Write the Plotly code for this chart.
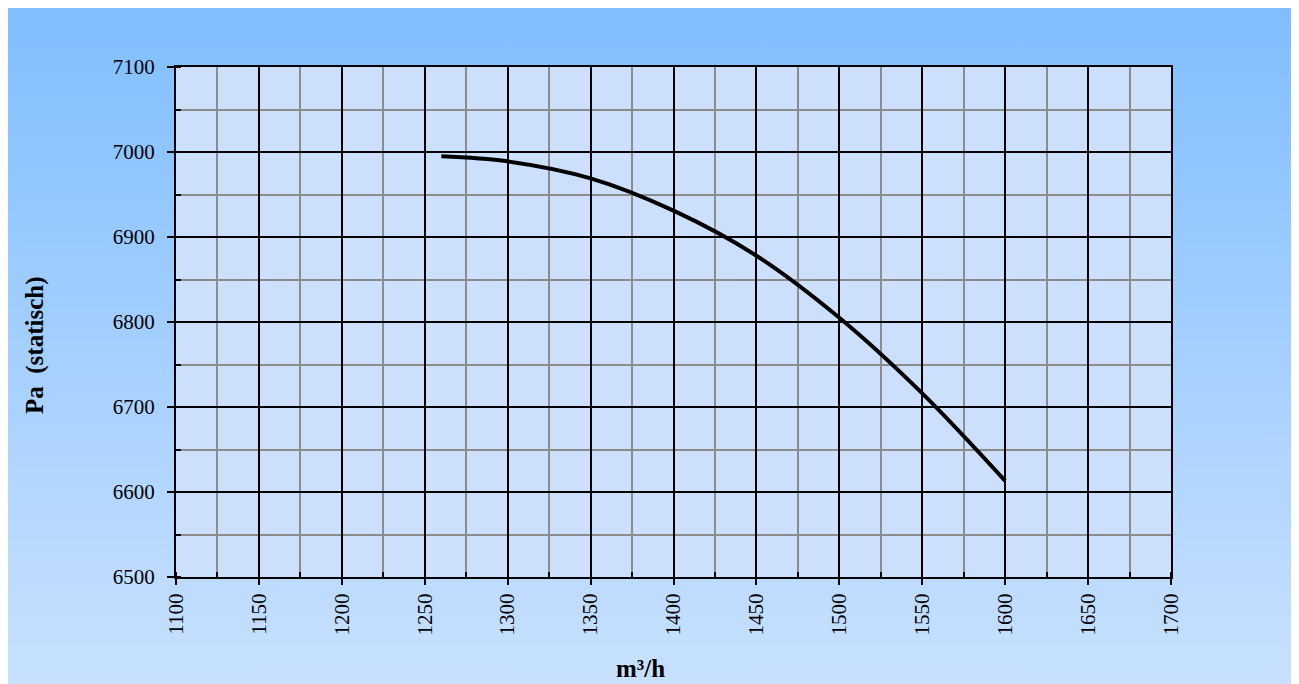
import base64
import plotly.graph_objects as go

# Data
flow = [1260, 1300, 1350, 1400, 1450, 1500, 1550, 1600]          # m³/h
pressure = [6995, 6989, 6969, 6931, 6878, 6805, 6716, 6613]      # Pa (statisch)

x_range = [1100, 1700]
y_range = [6500, 7100]
x_title = "m³/h"
y_title = "Pa\u00a0 (statisch)"

W, H = 1310, 684
# plot area pixel bounds in figure coordinates (page body margin is 8px)
L, R, T, B = 168, 1163, 59, 569
pw, ph = R - L, B - T

def px_x(p):
    return (p - L) / pw

def px_y(p):
    return (B - p) / ph

svg = (
    '<svg xmlns="http://www.w3.org/2000/svg" width="100" height="100" preserveAspectRatio="none">'
    '<defs><linearGradient id="g" x1="0" y1="0" x2="0" y2="1">'
    '<stop offset="0" stop-color="#80BEFF"/><stop offset="1" stop-color="#C9E1FF"/>'
    '</linearGradient></defs><rect width="100" height="100" fill="url(#g)"/></svg>'
)
svg_uri = "data:image/svg+xml;base64," + base64.b64encode(svg.encode()).decode()

font = "Liberation Serif, Times New Roman, serif"

fig = go.Figure()
fig.add_trace(go.Scatter(
    x=flow, y=pressure, mode="lines",
    line=dict(color="black", width=4, shape="spline", smoothing=1.0),
    showlegend=False, hoverinfo="x+y",
))

fig.update_layout(
    width=W, height=H,
    margin=dict(l=L, r=W - R, t=T, b=H - B, autoexpand=False),
    paper_bgcolor="#A6D0FF",
    plot_bgcolor="#CCDFFC",
    font=dict(family=font, size=21, color="black"),
    images=[dict(
        source=svg_uri, xref="paper", yref="paper",
        x=px_x(0), y=px_y(0), sizex=W / pw, sizey=H / ph,
        xanchor="left", yanchor="top", sizing="stretch", layer="below",
    )],
    shapes=[
        dict(type="rect", xref="paper", yref="paper", x0=0, x1=1, y0=0, y1=1,
             fillcolor="#CCDFFC", line=dict(width=0), layer="below"),
    ],
    annotations=[
        dict(text="<b>" + x_title + "</b>", xref="paper", yref="paper",
             x=px_x(632), y=px_y(660), showarrow=False, font=dict(size=25),
             xanchor="center", yanchor="middle"),
        dict(text="<b>" + y_title + "</b>", xref="paper", yref="paper",
             x=px_x(27), y=px_y(338), showarrow=False, font=dict(size=25),
             textangle=-90, xanchor="center", yanchor="middle"),
    ],
)

fig.update_xaxes(
    range=x_range, dtick=50, tick0=1100, tickangle=-90,
    showgrid=True, gridcolor="black", gridwidth=1.5,
    showline=True, linecolor="black", linewidth=2, mirror=True,
    ticks="outside", ticklen=6, tickcolor="black", tickwidth=1.5,
    zeroline=False, automargin=False,
    minor=dict(dtick=25, tick0=1100, showgrid=True, gridcolor="#8C8C8C", gridwidth=1.5,
               ticks="inside", ticklen=5, tickcolor="black", tickwidth=1.5),
)
fig.update_yaxes(
    range=y_range, dtick=100, tick0=6500,
    showgrid=True, gridcolor="black", gridwidth=1.5,
    showline=True, linecolor="black", linewidth=2, mirror=True,
    ticks="outside", ticklen=7, tickcolor="black", tickwidth=1.5,
    ticklabelstandoff=8,
    zeroline=False, automargin=False,
    minor=dict(dtick=50, tick0=6500, showgrid=True, gridcolor="#8C8C8C", gridwidth=1.5,
               ticks="inside", ticklen=5, tickcolor="black", tickwidth=1.5),
)

fig.write_html("out.html")
